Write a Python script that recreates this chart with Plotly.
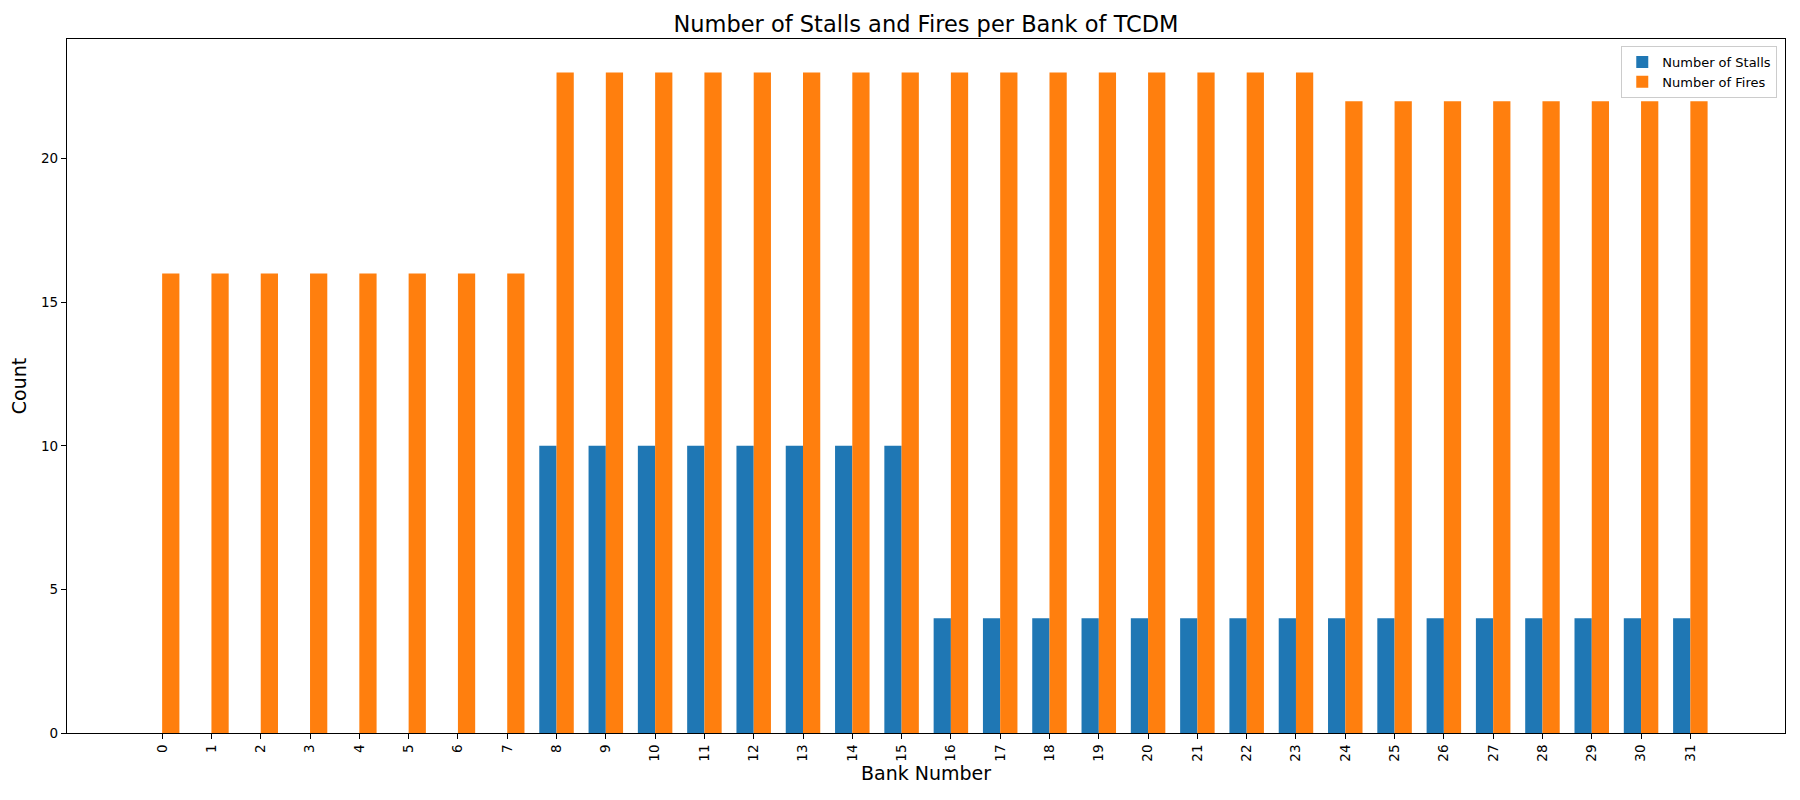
import plotly.graph_objects as go

banks = list(range(32))
tick_labels = [str(b) for b in banks]
stalls = [0]*8 + [10]*8 + [4]*16
fires = [16]*8 + [23]*16 + [22]*8

fig = go.Figure()
fig.add_trace(go.Bar(x=banks, y=stalls, name="Number of Stalls", width=0.35, offset=-0.35,
                     marker=dict(color="#1f77b4", line=dict(width=0))))
fig.add_trace(go.Bar(x=banks, y=fires, name="Number of Fires", width=0.35, offset=0,
                     marker=dict(color="#ff7f0e", line=dict(width=0))))

font = "DejaVu Sans"
fig.update_layout(
    width=1800, height=800,
    margin=dict(l=59, r=23, t=31, b=75, autoexpand=False),
    plot_bgcolor="white", paper_bgcolor="white",
    barmode="overlay",
    title=dict(text="Number of Stalls and Fires per Bank of TCDM", x=(926 - 8) / 1800, xanchor="center",
               y=1 - 16/800, yanchor="middle", font=dict(family=font, size=22.5, color="black")),
    font=dict(family=font, color="black"),
    showlegend=True,
    legend=dict(x=0.9955, y=0.99, xanchor="right", yanchor="top",
                bgcolor="rgba(255,255,255,0.8)", bordercolor="#cccccc", borderwidth=1,
                font=dict(family=font, size=13), itemwidth=30, tracegroupgap=0),
    xaxis=dict(range=[-1.93, 32.92], tickmode="array", tickvals=banks, ticktext=tick_labels,
               tickangle=-90, ticks="outside", ticklen=5, tickcolor="black", automargin=False,
               showline=True, linecolor="black", linewidth=1.2, mirror=True,
               showgrid=False, zeroline=False, tickfont=dict(family=font, size=13.5),
               title=dict(text="Bank Number", font=dict(family=font, size=19), standoff=4)),
    yaxis=dict(range=[0, 24.17], tickvals=[0, 5, 10, 15, 20], ticks="outside", ticklen=5,
               tickcolor="black", showline=True, linecolor="black", linewidth=1.2, mirror=True,
               automargin=False,
               showgrid=False, zeroline=False, tickfont=dict(family=font, size=13.5),
               title=dict(text="Count", font=dict(family=font, size=19), standoff=10)),
)
fig.write_html("out.html")
